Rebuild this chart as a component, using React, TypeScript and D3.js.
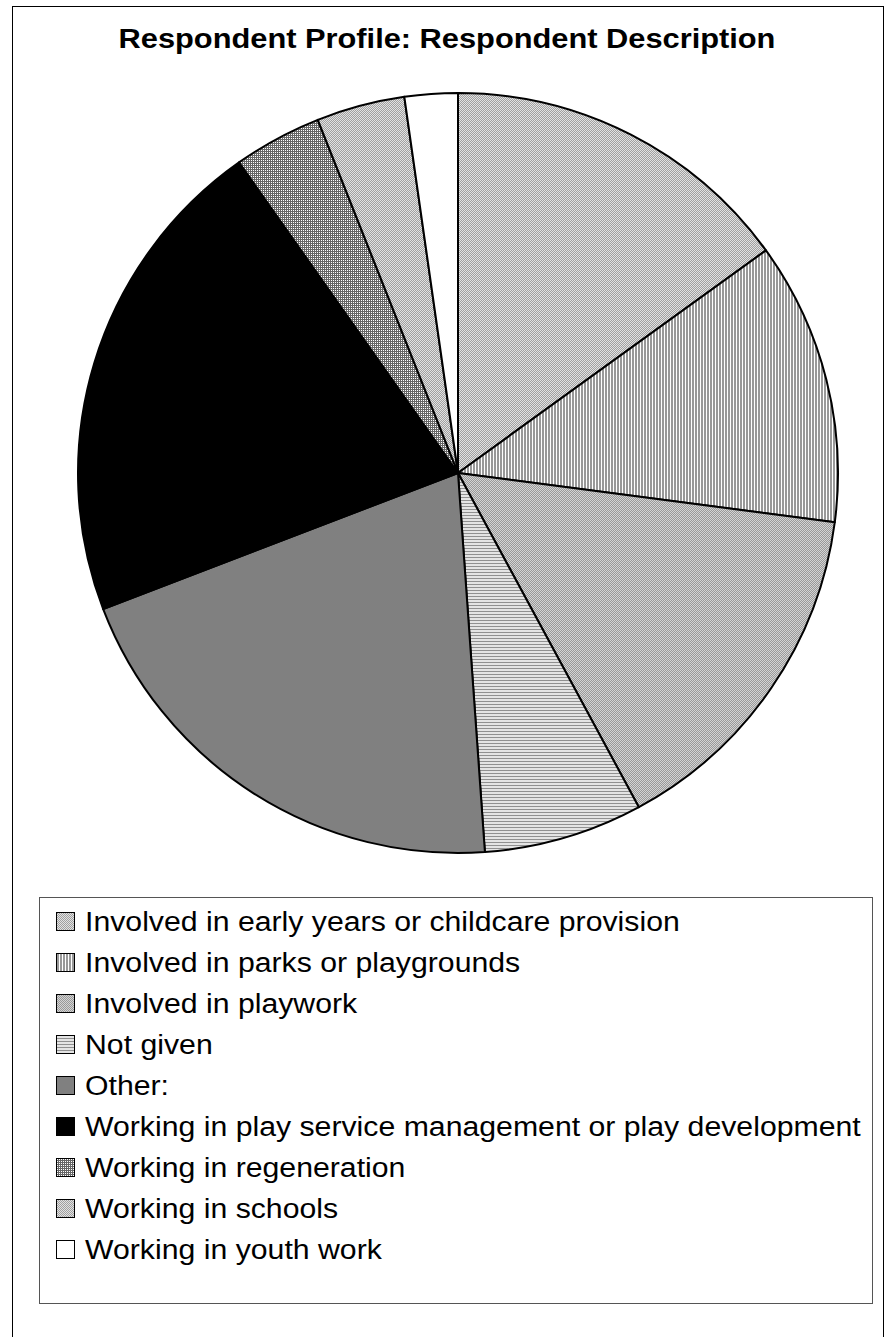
import { useMemo } from 'react';
import * as d3 from 'd3';

const categories = [
  'Involved in early years or childcare provision',
  'Involved in parks or playgrounds',
  'Involved in playwork',
  'Not given',
  'Other:',
  'Working in play service management or play development',
  'Working in regeneration',
  'Working in schools',
  'Working in youth work',
];

// respondent counts
const counts = [20, 16, 20, 9, 27, 28, 5, 5, 3];

const fills = [
  'url(#checkLight)',
  'url(#vStripes)',
  'url(#checkMid)',
  'url(#hStripes)',
  '#808080',
  '#000000',
  'url(#grid)',
  'url(#checkLight)',
  '#ffffff',
];

const title = 'Respondent Profile: Respondent Description';

const W = 884;
const H = 1337;
const cx = 458;
const cy = 473;
const radius = 380;

const App = () => {
  const data = categories.map((name, i) => ({ name, value: counts[i], fill: fills[i] }));

  const arcs = useMemo(() => {
    const pie = d3.pie<any>().value((d: any) => d.value).sort(null);
    return pie(data);
  }, []);

  const arc = d3.arc<any>().innerRadius(0).outerRadius(radius);

  const legendX = 39;
  const legendY = 897;
  const legendW = 833;
  const legendH = 406;
  const rowStep = 41;
  const textX = 85;
  const stretch = 1.12;

  return (
    <svg
      width={W}
      height={H}
      style={{ position: 'absolute', left: 0, top: 0, background: '#fff' }}
      fontFamily="'Liberation Sans', Arial, sans-serif"
    >
      <defs>
        <pattern id="checkLight" width={2} height={2} patternUnits="userSpaceOnUse">
          <rect width={2} height={2} fill="#e2e2e2" />
          <rect width={1} height={1} fill="#a0a0a0" shapeRendering="crispEdges" />
          <rect x={1} y={1} width={1} height={1} fill="#a0a0a0" shapeRendering="crispEdges" />
        </pattern>
        <pattern id="checkMid" width={2} height={2} patternUnits="userSpaceOnUse">
          <rect width={2} height={2} fill="#d4d4d4" />
          <rect width={1} height={1} fill="#999999" shapeRendering="crispEdges" />
          <rect x={1} y={1} width={1} height={1} fill="#999999" shapeRendering="crispEdges" />
        </pattern>
        <pattern id="vStripes" width={3} height={3} patternUnits="userSpaceOnUse">
          <rect width={3} height={3} fill="#ffffff" />
          <rect width={2} height={3} fill="#999999" shapeRendering="crispEdges" />
        </pattern>
        <pattern id="hStripes" width={3} height={3} patternUnits="userSpaceOnUse">
          <rect width={3} height={3} fill="#e4e4e4" />
          <rect width={3} height={1} fill="#909090" shapeRendering="crispEdges" />
        </pattern>
        <pattern id="grid" width={2} height={2} patternUnits="userSpaceOnUse">
          <rect width={2} height={2} fill="#666666" />
          <rect x={1} y={1} width={1} height={1} fill="#ffffff" shapeRendering="crispEdges" />
        </pattern>
      </defs>

      {/* outer frame */}
      <rect x={12.5} y={6.5} width={W - 13} height={H + 20} fill="none" stroke="#000" strokeWidth={1} />

      <text
        x={447}
        y={48}
        textAnchor="middle"
        fontSize={28}
        fontWeight="bold"
        fill="#000"
        transform="translate(447,0) scale(1.1,1) translate(-447,0)"
      >
        {title}
      </text>

      <g transform={`translate(${cx},${cy})`}>
        {arcs.map((a, i) => (
          <path key={i} d={arc(a) || ''} fill={a.data.fill} stroke="#000" strokeWidth={2} strokeLinejoin="round" />
        ))}
      </g>

      {/* legend */}
      <rect x={legendX + 0.5} y={legendY + 0.5} width={legendW} height={legendH} fill="#fff" stroke="#555" strokeWidth={1} />
      {data.map((d, i) => {
        const rowY = legendY + 25 + i * rowStep;
        return (
          <g key={d.name}>
            <rect x={56.5} y={rowY - 9.5} width={18} height={18} fill={d.fill} stroke="#000" strokeWidth={1} />
            <text
              x={textX}
              y={rowY + 9.5}
              fontSize={27}
              fill="#000"
              transform={`translate(${textX},0) scale(${stretch},1) translate(${-textX},0)`}
            >
              {d.name}
            </text>
          </g>
        );
      })}
    </svg>
  );
};

export default App;
